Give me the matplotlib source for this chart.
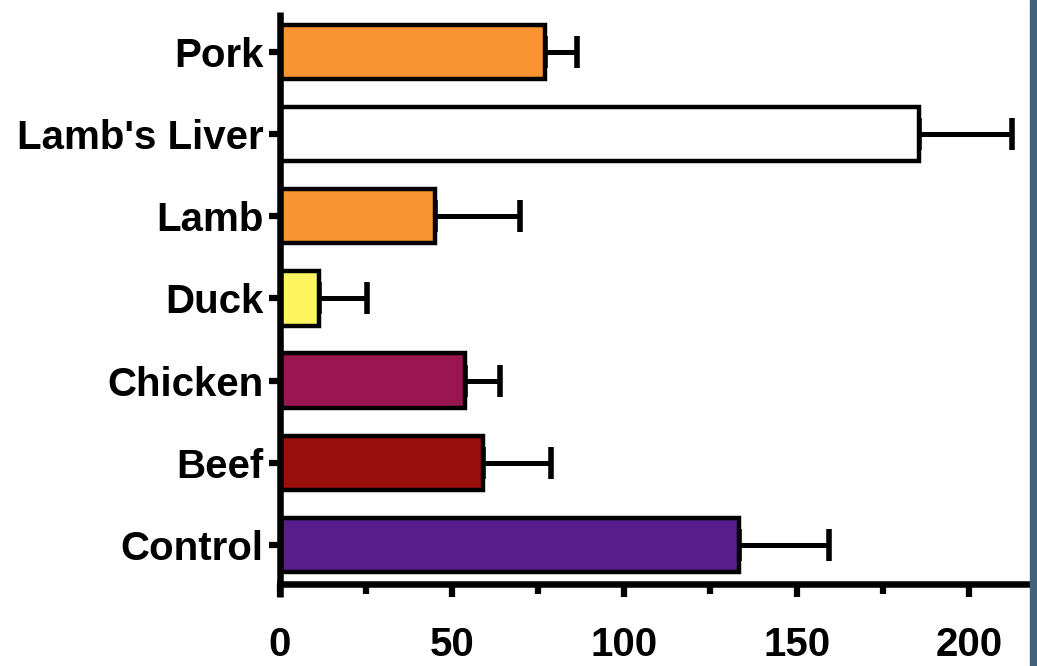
import numpy as np
import matplotlib.pyplot as plt
from matplotlib.patches import Rectangle

plt.rcParams['font.family'] = ['Liberation Sans', 'DejaVu Sans']
plt.rcParams['font.weight'] = 'bold'

# bottom to top
groups = ['Control', 'Beef', 'Chicken', 'Duck', 'Lamb', "Lamb's Liver", 'Pork']
means = [133.2, 58.9, 53.7, 11.3, 45.0, 185.5, 76.9]
errors = [26.2, 19.8, 10.2, 14.0, 24.7, 27.0, 9.3]
colors = ['#561d8b', '#990f0b', '#991650', '#fcf55f', '#fa9333', '#ffffff', '#fa9333']
xticks = [0, 50, 100, 150, 200]
minor_xticks = [25, 75, 125, 175]

fig = plt.figure(figsize=(10.37, 6.66), dpi=100)
ax = fig.add_axes([0.270, 0.123, 0.724, 0.859])

y = np.arange(len(groups))
ax.barh(y, means, height=0.66, color=colors, edgecolor='black', linewidth=3.2, zorder=3)
ax.errorbar(means, y, xerr=[np.zeros(len(errors)), errors], fmt='none', ecolor='black',
            elinewidth=3.6, capsize=11.5, capthick=4, zorder=2)

ax.set_xlim(0, 218)
ax.set_ylim(-0.48, 6.49)

ax.set_yticks(y)
ax.set_yticklabels(groups)
ax.set_xticks(xticks)
ax.set_xticks(minor_xticks, minor=True)

for side in ['top', 'right']:
    ax.spines[side].set_visible(False)
ax.spines['bottom'].set_linewidth(4.7)
ax.spines['left'].set_visible(False)
# left axis line runs down past the x axis to the tick ends
ax.plot([0, 0], [-0.022, 1], transform=ax.transAxes, color='black',
        lw=4.7, clip_on=False, solid_capstyle='butt', zorder=5)

ax.tick_params(axis='x', which='major', length=9, width=4.5, pad=21, labelsize=29)
ax.tick_params(axis='x', which='minor', length=7, width=4.5)
ax.tick_params(axis='y', length=8, width=4.5, pad=4, labelsize=29)
for lab in ax.get_xticklabels() + ax.get_yticklabels():
    lab.set_fontweight('bold')

# dark frame strip along the right edge
fig.patches.append(Rectangle((1030 / 1037, 0), 7 / 1037, 1, transform=fig.transFigure,
                             color='#41637f', zorder=10))

fig.savefig('out.png', dpi=100)
